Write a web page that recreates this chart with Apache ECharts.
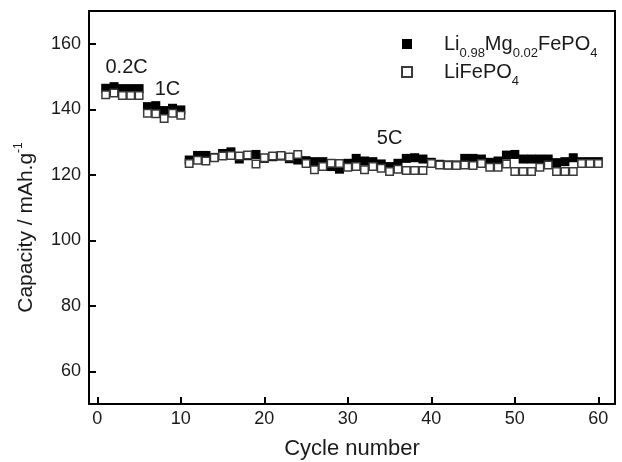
<!DOCTYPE html>
<html>
<head>
<meta charset="utf-8">
<script src="https://cdn.jsdelivr.net/npm/echarts@6/dist/echarts.min.js"></script>
<style>
  html, body { margin: 0; padding: 0; background: #fff; }
  #main { width: 622px; height: 462px; }
</style>
</head>
<body>
<div id="main"></div>
<script>
var cycles = [
  1, 2, 3, 4, 5, 6, 7, 8, 9, 10,
  11, 12, 13, 14, 15, 16, 17, 18, 19, 20,
  21, 22, 23, 24, 25, 26, 27, 28, 29, 30,
  31, 32, 33, 34, 35, 36, 37, 38, 39, 40,
  41, 42, 43, 44, 45, 46, 47, 48, 49, 50,
  51, 52, 53, 54, 55, 56, 57, 58, 59, 60
];
// Li0.98Mg0.02FePO4 (filled squares)
var mgDoped = [
  146.4, 146.9, 146.3, 146.3, 146.3, 140.8, 141.1, 139.6, 140.3, 139.8,
  124.5, 125.9, 125.9, 125.3, 126.5, 127.0, 124.8, 125.8, 126.2, 125.0,
  125.5, 125.7, 124.9, 124.5, 124.3, 124.0, 124.0, 122.5, 121.7, 123.5,
  125.0, 124.2, 124.0, 123.3, 122.5, 123.5, 125.0, 125.2, 124.8, 123.8,
  123.2, 123.0, 123.0, 125.0, 125.0, 124.8, 123.8, 124.2, 126.0, 126.2,
  124.8, 124.8, 124.8, 124.8, 123.7, 124.0, 125.2, 124.0, 124.0, 124.0
];
// LiFePO4 (open squares)
var pristine = [
  144.4, 145.0, 144.2, 144.2, 144.2, 138.8, 138.6, 137.2, 138.8, 138.2,
  123.4, 124.4, 124.2, 125.2, 125.7, 125.9, 125.7, 126.0, 123.3, 125.2,
  125.7, 125.9, 125.4, 126.2, 123.4, 121.5, 122.5, 123.5, 123.4, 122.3,
  122.5, 121.5, 122.5, 122.0, 121.0, 121.7, 121.3, 121.3, 121.3, 123.4,
  123.0, 122.9, 122.8, 123.0, 122.8, 123.4, 122.3, 122.3, 123.3, 121.0,
  121.0, 121.0, 122.3, 123.0, 121.0, 121.0, 121.0, 123.4, 123.4, 123.4
];
var xTicks = [0, 10, 20, 30, 40, 50, 60];
var yTicks = [60, 80, 100, 120, 140, 160];
var rateLabels = ['0.2C', '1C', '5C'];
var rateX = [3.5, 8.4, 35.0];
var rateY = [152.7, 145.9, 131.2];

var FONT = "'Liberation Sans', Arial, sans-serif";
var INK = '#1a1a1a';

function pairs(vals) {
  return vals.map(function (v, i) { return [cycles[i], v]; });
}

var chart = echarts.init(document.getElementById('main'));

var option = {
  backgroundColor: '#fff',
  animation: false,
  textStyle: { fontFamily: FONT, color: INK },
  grid: {
    left: 89, right: 7, top: 11, bottom: 58,
    outerBoundsMode: 'none',
    containLabel: false,
    show: true, borderColor: '#000', borderWidth: 2
  },
  legend: {
    orient: 'vertical',
    left: 396, top: 29,
    itemWidth: 10, itemHeight: 10, itemGap: 2,
    data: ['Li0.98Mg0.02FePO4', 'LiFePO4'],
    formatter: function (name) {
      if (name === 'LiFePO4') return '{f|LiFePO}{s|4}';
      return '{f|Li}{s|0.98}{m|Mg}{s|0.02}{m|FePO}{s|4}';
    },
    textStyle: {
      rich: {
        f: { fontSize: 20, lineHeight: 20, verticalAlign: 'top', padding: [0, 0, 0, 27], color: INK, fontFamily: FONT },
        m: { fontSize: 20, lineHeight: 20, verticalAlign: 'top', color: INK, fontFamily: FONT },
        s: { fontSize: 13, lineHeight: 13, verticalAlign: 'top', padding: [13, 0, 0, 0], color: INK, fontFamily: FONT }
      }
    }
  },
  xAxis: {
    type: 'value',
    min: -1, max: 62,
    name: 'Cycle number',
    nameLocation: 'middle',
    nameGap: 34,
    nameTextStyle: { fontSize: 22, color: INK, fontFamily: FONT },
    splitLine: { show: false },
    axisLine: { show: true, onZero: false, lineStyle: { color: '#000', width: 2 } },
    axisTick: { show: true, inside: true, length: 7, lineStyle: { color: '#000', width: 2 }, customValues: xTicks },
    axisLabel: { fontSize: 18, color: INK, margin: 6, customValues: xTicks }
  },
  yAxis: {
    type: 'value',
    min: 50, max: 170,
    name: 'Capacity / mAh.g{sup|-1}',
    nameLocation: 'middle',
    nameGap: 50,
    nameRotate: 90,
    nameTextStyle: {
      fontSize: 21, color: INK, fontFamily: FONT,
      padding: [0, 40, 0, 0],
      rich: {
        sup: { fontSize: 12, lineHeight: 12, verticalAlign: 'top', color: INK, fontFamily: FONT }
      },
      lineHeight: 26
    },
    splitLine: { show: false },
    axisLine: { show: true, onZero: false, lineStyle: { color: '#000', width: 2 } },
    axisTick: { show: true, inside: true, length: 7, lineStyle: { color: '#000', width: 2 }, customValues: yTicks },
    axisLabel: { fontSize: 18, color: INK, margin: 8, customValues: yTicks }
  },
  series: [
    {
      name: 'Li0.98Mg0.02FePO4',
      type: 'scatter',
      symbol: 'rect',
      symbolSize: 9,
      itemStyle: { color: '#000', opacity: 1 },
      data: pairs(mgDoped),
      markPoint: {
        symbol: 'rect',
        symbolSize: 0,
        label: { show: true, position: 'inside', formatter: '{b}', fontSize: 20, color: INK, fontFamily: FONT },
        data: rateLabels.map(function (t, i) { return { name: t, coord: [rateX[i], rateY[i]] }; })
      }
    },
    {
      name: 'LiFePO4',
      type: 'scatter',
      symbol: 'rect',
      symbolSize: 7.5,
      itemStyle: { color: '#fff', borderColor: '#3a3a3a', borderWidth: 1.5, opacity: 1 },
      data: pairs(pristine)
    }
  ]
};

chart.setOption(option);
</script>
</body>
</html>
